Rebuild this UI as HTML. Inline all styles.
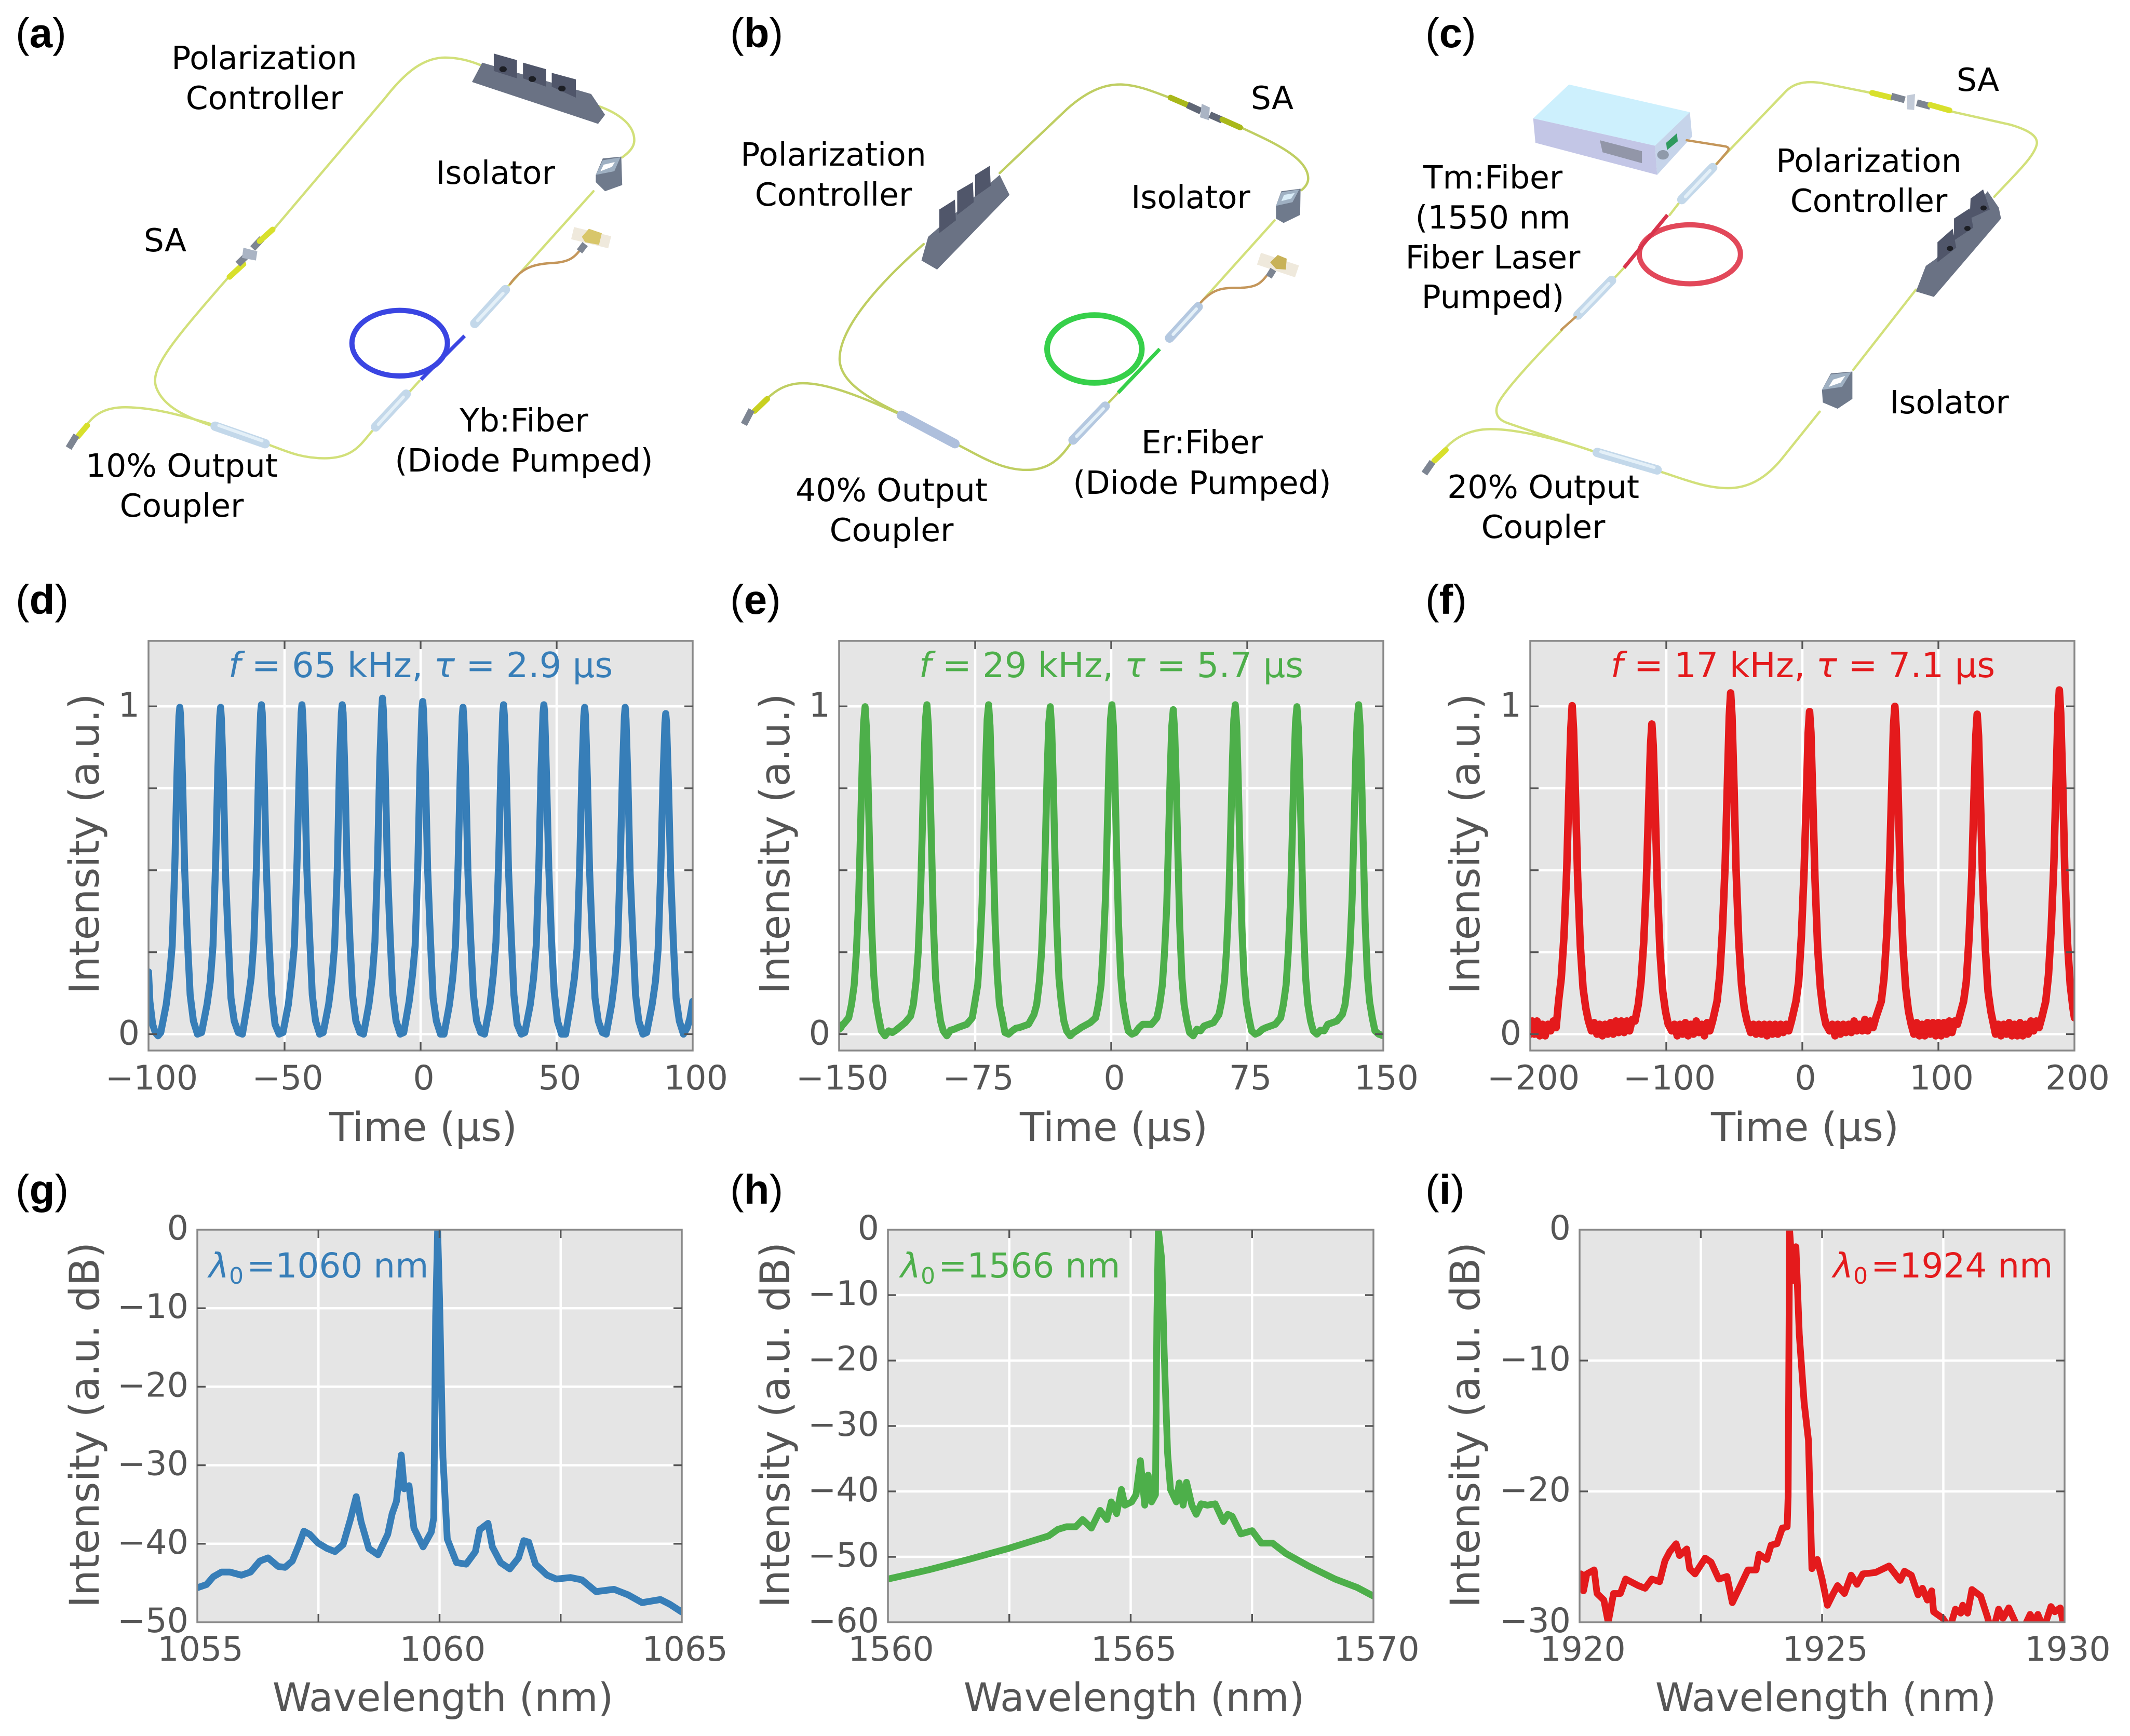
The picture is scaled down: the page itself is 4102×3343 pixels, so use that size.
<!DOCTYPE html>
<html lang="en">
<head>
<meta charset="utf-8">
<title>Fiber laser schematics, pulse trains and spectra</title>
<style>
html,body{margin:0;padding:0;background:#fff;}
svg{display:block;}
text{font-family:"DejaVu Sans",sans-serif;}
.schem *{vector-effect:non-scaling-stroke;}
.lbl{font-size:61.5px;fill:#000;text-anchor:middle;}
.plab{font-family:"Liberation Sans",sans-serif;font-size:80px;fill:#000;}
.plab tspan{font-family:"Liberation Sans",sans-serif;}
.axt{font-size:79px;fill:#555;text-anchor:middle;}
.axdb{font-size:78.5px;}
.axw{font-size:76px;}
.axtm{font-size:77px;}
.ann{font-size:67px;text-anchor:middle;}
.lam{font-size:66px;}
.fib{fill:none;stroke:#d2e07a;stroke-width:4.5;stroke-linecap:round;stroke-linejoin:round;}
.fibb{fill:none;stroke:#bfce62;stroke-width:4.5;stroke-linecap:round;stroke-linejoin:round;}
.org{fill:none;stroke:#c4965a;stroke-width:4.5;stroke-linecap:round;stroke-linejoin:round;}
.tube{fill:none;stroke:#c3d8ea;stroke-width:18;stroke-linecap:round;}
.tubeh{fill:none;stroke:#e4f0f8;stroke-width:6;stroke-linecap:round;}
.conn{fill:none;stroke:#d8e02c;stroke-width:11;stroke-linecap:round;}
.gcon{fill:none;stroke:#7d8592;stroke-width:13;stroke-linecap:butt;}
.pcb{fill:#6a7284;}
.pcp{fill:#50566a;}
.knob{fill:#1c1e24;}
.iso{fill:#6f7a8c;}
.isot{fill:#9fb0c2;}
.arrow{fill:#fff;}
</style>
</head>
<body>
<svg id="figure" xmlns="http://www.w3.org/2000/svg" width="4102" height="3343" viewBox="0 0 4102 3343">
<rect x="0" y="0" width="4102" height="3343" fill="#fff"/>

<!-- Schematic A -->
<g class="schem" transform="scale(.8929,.7015)">
  <path class="fib" d="M460,1170 C400,1145 350,1115 336,1060 C325,1010 370,940 490,765 M590,630 L830,270 C870,205 910,158 960,158 C990,158 1015,168 1035,178 M1275,285 C1330,305 1368,340 1368,385 C1368,405 1355,420 1342,432 M1280,525 L1100,780 L1020,890"/>
  <path class="fib" d="M880,1080 L905,1045 M805,1180 C780,1215 765,1258 700,1258 C650,1258 620,1240 578,1220"/>
  <path class="fib" d="M458,1165 C390,1140 330,1118 270,1118 C230,1118 205,1135 188,1165"/>
  <ellipse cx="862" cy="942" rx="103" ry="90" fill="none" stroke="#3a45e2" stroke-width="10"/>
  <path fill="none" stroke="#3a45e2" stroke-width="7" d="M1002,922 L908,1042"/>
  <path class="tube" d="M1024,888 L1090,795"/>
  <path class="tubeh" d="M1030,880 L1085,805"/>
  <path class="tube" d="M810,1172 L876,1082"/>
  <path class="tubeh" d="M816,1165 L870,1090"/>
  <path class="tube" d="M464,1170 L572,1218"/>
  <path class="tubeh" d="M472,1168 L565,1210"/>
  <path class="org" d="M1100,780 C1125,735 1150,725 1190,722 C1230,720 1240,705 1255,680"/>
  <path fill="none" stroke="#efe9dc" stroke-width="24" d="M1235,640 L1315,665"/>
  <path fill="#d8c66a" d="M1255,650 L1270,628 L1298,640 L1292,672 L1262,665 Z"/>
  <path class="gcon" d="M1262,670 L1250,690"/>
  <path class="conn" d="M188,1168 L168,1198"/>
  <path class="gcon" d="M165,1195 L148,1230"/>
  <path class="conn" d="M495,760 L525,725"/>
  <path class="gcon" d="M513,725 L535,698"/>
  <path fill="#aab4c4" d="M525,680 L555,690 L552,715 L522,708 Z"/>
  <path class="gcon" d="M545,682 L565,655"/>
  <path class="conn" d="M560,662 L588,630"/>
  <path class="pcb" d="M1018,225 L1040,172 L1275,258 L1305,315 L1290,340 Z"/>
  <path class="pcp" d="M1065,195 L1065,147 L1115,165 L1115,215 Z"/>
  <path class="pcp" d="M1128,215 L1128,172 L1178,190 L1178,238 Z"/>
  <path class="pcp" d="M1190,238 L1190,200 L1242,218 L1242,268 Z"/>
  <ellipse class="knob" cx="1085" cy="190" rx="8" ry="8"/>
  <ellipse class="knob" cx="1148" cy="217" rx="8" ry="8"/>
  <ellipse class="knob" cx="1212" cy="243" rx="8" ry="8"/>
  <path class="iso" d="M1285,480 L1300,435 L1340,430 L1342,508 L1305,525 L1285,500 Z"/>
  <path class="isot" d="M1285,480 L1300,440 L1338,432 L1325,470 Z"/>
  <path class="arrow" d="M1295,470 L1302,452 L1326,445 L1320,458 Z"/>
</g>

<!-- Schematic B -->
<g class="schem" transform="translate(1400,0) scale(.861,.7015)">
  <path class="fibb" d="M383,1133 C320,1095 252,1050 252,985 C252,910 320,800 440,670 M610,475 L760,300 C810,245 850,230 885,232 C925,235 960,255 990,268 M1150,350 C1210,385 1300,430 1300,490 C1300,505 1292,515 1285,522"/>
  <path class="fib" d="M1225,605 L1060,830"/>
  <path class="fibb" d="M850,1110 L875,1078 M770,1215 C745,1260 720,1290 670,1290 C615,1290 570,1255 515,1220"/>
  <path class="fibb" d="M383,1135 C310,1095 230,1052 170,1052 C130,1052 105,1075 85,1100"/>
  <ellipse cx="822" cy="958" rx="106" ry="93" fill="none" stroke="#36d04a" stroke-width="11"/>
  <path fill="none" stroke="#36d04a" stroke-width="7" d="M968,958 L875,1078"/>
  <path class="tube" d="M990,928 L1054,842" style="stroke:#b4c8e0"/>
  <path class="tubeh" d="M998,918 L1050,848"/>
  <path class="tube" d="M774,1208 L846,1115" style="stroke:#b4c8e0"/>
  <path class="tubeh" d="M782,1198 L842,1122"/>
  <path class="tube" d="M390,1140 L510,1218" style="stroke:#aebfdc"/>
  <path class="org" d="M1060,830 C1090,790 1110,790 1150,790 C1190,788 1195,775 1215,745"/>
  <path fill="none" stroke="#efe9dc" stroke-width="24" d="M1190,710 L1275,745"/>
  <path fill="#c8b258" d="M1215,720 L1232,700 L1252,710 L1250,740 L1228,738 Z"/>
  <path class="gcon" d="M1222,740 L1212,760"/>
  <path class="conn" d="M90,1095 L62,1128" style="stroke:#c8d020"/>
  <path class="gcon" d="M55,1125 L38,1165"/>
  <path class="conn" d="M992,268 L1030,288" style="stroke:#a9b81a"/>
  <path class="gcon" d="M1030,288 L1060,305" style="stroke:#5f6675"/>
  <path fill="#aab4c4" d="M1062,285 L1080,295 L1078,330 L1058,322 Z"/>
  <path class="gcon" d="M1080,315 L1108,330" style="stroke:#5f6675"/>
  <path class="conn" d="M1108,328 L1148,350" style="stroke:#a9b81a"/>
  <path class="pcb" d="M435,715 L450,650 L610,480 L632,535 L470,740 Z"/>
  <path class="pcp" d="M475,640 L475,575 L510,548 L512,605 Z"/>
  <path class="pcp" d="M515,590 L515,525 L550,500 L552,555 Z"/>
  <path class="pcp" d="M555,540 L555,480 L588,455 L590,510 Z"/>
  <path class="iso" d="M1228,565 L1240,525 L1283,518 L1282,590 L1245,612 L1228,600 Z"/>
  <path class="isot" d="M1228,565 L1240,528 L1280,520 L1265,555 Z"/>
  <path fill="#d9ecf7" d="M1240,552 L1246,535 L1270,530 L1262,545 Z"/>
</g>

<!-- Schematic C -->
<g class="schem" transform="translate(2750,0) scale(.8622,.7015)">
  <path class="fib" d="M640,455 L800,250 C820,225 850,222 880,228 L990,255 M1165,305 L1300,342 C1345,358 1362,375 1360,395 C1355,430 1310,480 1265,540"/>
  <path class="fib" d="M1090,795 L950,1015 M875,1130 L790,1260 C750,1320 710,1340 670,1340 C620,1340 570,1315 520,1295"/>
  <path class="fib" d="M372,1240 C300,1210 220,1180 175,1160 C150,1148 148,1125 160,1100 C180,1060 240,980 300,905 M415,765 L438,735 M540,590 L562,555"/>
  <path class="fib" d="M372,1240 C290,1205 200,1178 140,1178 C90,1178 55,1205 32,1240"/>
  <ellipse cx="585" cy="698" rx="113" ry="81" fill="none" stroke="#e2485a" stroke-width="10"/>
  <path fill="none" stroke="#d8344c" stroke-width="7" d="M535,590 L438,735"/>
  <path class="tube" d="M567,548 L636,460"/>
  <path class="tubeh" d="M575,540 L630,468"/>
  <path class="tube" d="M335,865 L410,770"/>
  <path class="tubeh" d="M343,856 L404,778"/>
  <path class="tube" d="M378,1242 L512,1290"/>
  <path class="tubeh" d="M386,1240 L505,1283"/>
  <path fill="#cdf0fd" d="M235,325 L315,232 L585,308 L507,400 Z"/>
  <path fill="#c3c6e6" d="M235,325 L507,400 L512,480 L240,392 Z"/>
  <path fill="#c6d4ea" d="M507,400 L585,308 L590,375 L512,480 Z"/>
  <path fill="#9296a8" d="M384,385 L478,415 L478,448 L390,418 Z"/>
  <path fill="#2f9a5e" d="M532,392 L556,366 L558,388 L534,412 Z"/>
  <ellipse cx="525" cy="425" rx="13" ry="13" fill="#8f9aaa"/>
  <path class="org" d="M578,385 L665,402 C675,406 672,412 666,420 L645,450"/>
  <path class="org" d="M330,870 L298,905"/>
  <path class="conn" d="M40,1235 L14,1265"/>
  <path class="gcon" d="M10,1268 L-8,1300"/>
  <path class="conn" d="M992,255 L1035,268"/>
  <path class="gcon" d="M1035,264 L1065,274"/>
  <path fill="#c3cbd8" d="M1070,262 L1088,258 L1086,302 L1070,300 Z"/>
  <path class="gcon" d="M1092,282 L1122,292"/>
  <path class="conn" d="M1122,288 L1165,303"/>
  <path class="pcb" d="M1090,800 L1112,730 L1135,710 L1250,525 L1275,570 L1280,600 L1130,815 Z"/>
  <path class="pcp" d="M1138,720 L1138,665 L1172,628 L1180,680 Z"/>
  <path class="pcp" d="M1175,660 L1175,600 L1210,572 L1218,625 Z"/>
  <path class="pcp" d="M1210,600 L1212,545 L1240,520 L1255,575 Z"/>
  <ellipse class="knob" cx="1166" cy="682" rx="7" ry="7"/>
  <ellipse class="knob" cx="1205" cy="627" rx="7" ry="7"/>
  <ellipse class="knob" cx="1241" cy="571" rx="7" ry="7"/>
  <path class="iso" d="M880,1070 L900,1025 L948,1020 L948,1095 L915,1122 L882,1105 Z"/>
  <path class="isot" d="M880,1070 L900,1028 L945,1022 L925,1062 Z"/>
  <path class="arrow" d="M895,1062 L905,1042 L932,1032 L922,1050 Z"/>
</g>

<!-- Schematic labels -->
<g>
  <text class="lbl" x="509" y="133">Polarization</text>
  <text class="lbl" x="509" y="210">Controller</text>
  <text class="lbl" x="954" y="354">Isolator</text>
  <text class="lbl" x="318" y="484">SA</text>
  <text class="lbl" x="350" y="918">10% Output</text>
  <text class="lbl" x="350" y="995">Coupler</text>
  <text class="lbl" x="1009" y="831">Yb:Fiber</text>
  <text class="lbl" x="1009" y="908">(Diode Pumped)</text>
</g>
<g>
  <text class="lbl" x="1605" y="319">Polarization</text>
  <text class="lbl" x="1605" y="396">Controller</text>
  <text class="lbl" x="2450" y="210">SA</text>
  <text class="lbl" x="2293" y="401">Isolator</text>
  <text class="lbl" x="1717" y="965">40% Output</text>
  <text class="lbl" x="1717" y="1042">Coupler</text>
  <text class="lbl" x="2315" y="873">Er:Fiber</text>
  <text class="lbl" x="2315" y="951">(Diode Pumped)</text>
</g>
<g>
  <text class="lbl" x="2875" y="363">Tm:Fiber</text>
  <text class="lbl" x="2875" y="440">(1550 nm</text>
  <text class="lbl" x="2875" y="517">Fiber Laser</text>
  <text class="lbl" x="2875" y="593">Pumped)</text>
  <text class="lbl" x="3599" y="331">Polarization</text>
  <text class="lbl" x="3599" y="408">Controller</text>
  <text class="lbl" x="3809" y="175">SA</text>
  <text class="lbl" x="3754" y="796">Isolator</text>
  <text class="lbl" x="2972" y="959">20% Output</text>
  <text class="lbl" x="2972" y="1036">Coupler</text>
</g>

<!-- Panel letters -->
<g>
  <text class="plab" x="30" y="91">(<tspan font-weight="bold">a</tspan>)</text>
  <text class="plab" x="1406" y="91">(<tspan font-weight="bold">b</tspan>)</text>
  <text class="plab" x="2745" y="91">(<tspan font-weight="bold">c</tspan>)</text>
  <text class="plab" x="30" y="1182">(<tspan font-weight="bold">d</tspan>)</text>
  <text class="plab" x="1406" y="1182">(<tspan font-weight="bold">e</tspan>)</text>
  <text class="plab" x="2745" y="1182">(<tspan font-weight="bold">f</tspan>)</text>
  <text class="plab" x="30" y="2318">(<tspan font-weight="bold">g</tspan>)</text>
  <text class="plab" x="1406" y="2318">(<tspan font-weight="bold">h</tspan>)</text>
  <text class="plab" x="2745" y="2318">(<tspan font-weight="bold">i</tspan>)</text>
</g>

<!-- Chart groups, filled by script -->
<g id="panel-d"></g>
<g id="panel-e"></g>
<g id="panel-f"></g>
<g id="panel-g"></g>
<g id="panel-h"></g>
<g id="panel-i"></g>

<!-- Axis titles and annotations -->
<g>
  <text class="axt axtm" x="815" y="2197">Time (µs)</text>
  <text class="axt axtm" x="2145" y="2197">Time (µs)</text>
  <text class="axt axtm" x="3476" y="2197">Time (µs)</text>
  <text class="axt axw" x="853" y="3295">Wavelength (nm)</text>
  <text class="axt axw" x="2184" y="3295">Wavelength (nm)</text>
  <text class="axt axw" x="3516" y="3295">Wavelength (nm)</text>
  <text class="axt" transform="translate(190,1625) rotate(-90)">Intensity (a.u.)</text>
  <text class="axt" transform="translate(1520,1625) rotate(-90)">Intensity (a.u.)</text>
  <text class="axt" transform="translate(2849,1625) rotate(-90)">Intensity (a.u.)</text>
  <text class="axt axdb" transform="translate(190,2744) rotate(-90)">Intensity (a.u. dB)</text>
  <text class="axt axdb" transform="translate(1520,2744) rotate(-90)">Intensity (a.u. dB)</text>
  <text class="axt axdb" transform="translate(2849,2744) rotate(-90)">Intensity (a.u. dB)</text>
</g>
<g>
  <text class="ann" x="810" y="1304" fill="#377eb8"><tspan font-style="italic">f</tspan> = 65 kHz, <tspan font-style="italic">τ</tspan> = 2.9 µs</text>
  <text class="ann" x="2140" y="1304" fill="#4daf4a"><tspan font-style="italic">f</tspan> = 29 kHz, <tspan font-style="italic">τ</tspan> = 5.7 µs</text>
  <text class="ann" x="3472" y="1304" fill="#e41a1c"><tspan font-style="italic">f</tspan> = 17 kHz, <tspan font-style="italic">τ</tspan> = 7.1 µs</text>
  <text class="lam" x="402" y="2460" fill="#377eb8"><tspan font-style="italic">λ</tspan><tspan font-size="44" dy="12">0</tspan><tspan dx="6" dy="-12">=1060 nm</tspan></text>
  <text class="lam" x="1734" y="2460" fill="#4daf4a"><tspan font-style="italic">λ</tspan><tspan font-size="44" dy="12">0</tspan><tspan dx="6" dy="-12">=1566 nm</tspan></text>
  <text class="lam" x="3530" y="2460" fill="#e41a1c"><tspan font-style="italic">λ</tspan><tspan font-size="44" dy="12">0</tspan><tspan dx="6" dy="-12">=1924 nm</tspan></text>
</g>
</svg>

<script>
// ---------- Panel d: Yb pulse train ----------
const timeD = [
 -100,-99.5,-98.5,-97.5,-96.5,
 -95.5,-93.5,-92.3,-91.3,-90.3,-89.5,-88.8,-88.5,-88.2,-87.5,-86.7,-85.7,-84.7,-83.5,-82,
 -80.5,-78.5,-77.3,-76.3,-75.3,-74.5,-73.8,-73.5,-73.2,-72.5,-71.7,-70.7,-69.7,-68.5,-67,
 -65.5,-63.5,-62.3,-61.3,-60.3,-59.5,-58.8,-58.5,-58.2,-57.5,-56.7,-55.7,-54.7,-53.5,-52,
 -50.6,-48.6,-47.4,-46.4,-45.4,-44.6,-43.9,-43.6,-43.3,-42.6,-41.8,-40.8,-39.8,-38.6,-37.1,
 -35.8,-33.8,-32.6,-31.6,-30.6,-29.8,-29.1,-28.8,-28.5,-27.8,-27,-26,-25,-23.8,-22.3,
 -21,-19,-17.8,-16.8,-15.8,-15,-14.3,-14,-13.7,-13,-12.2,-11.2,-10.2,-9,-7.5,
 -6.2,-4.2,-3,-2,-1,-0.2,0.5,0.8,1.1,1.8,2.6,3.6,4.6,5.8,7.3,
 8.6,10.6,11.8,12.8,13.8,14.6,15.3,15.6,15.9,16.6,17.4,18.4,19.4,20.6,22.1,
 23.5,25.5,26.7,27.7,28.7,29.5,30.2,30.5,30.8,31.5,32.3,33.3,34.3,35.5,37,
 38.3,40.3,41.5,42.5,43.5,44.3,45,45.3,45.6,46.3,47.1,48.1,49.1,50.3,51.8,
 53.3,55.3,56.5,57.5,58.5,59.3,60,60.3,60.6,61.3,62.1,63.1,64.1,65.3,66.8,
 68.2,70.2,71.4,72.4,73.4,74.2,74.9,75.2,75.5,76.2,77,78,79,80.2,81.7,
 83.1,85.1,86.3,87.3,88.3,89.1,89.8,90.1,90.4,91.1,91.9,92.9,93.9,95.1,96.6,
 98,99,100
];
const intensityD = [
 0.19,0.1,0.03,0.005,-0.005,
 0.005,0.09,0.17,0.27,0.52,0.8,0.97,0.997,0.97,0.78,0.5,0.29,0.12,0.04,0,
 0.005,0.09,0.16,0.27,0.53,0.81,0.97,0.997,0.96,0.78,0.49,0.29,0.11,0.04,0.005,
 0,0.1,0.17,0.28,0.52,0.82,0.98,1.005,0.98,0.79,0.51,0.28,0.12,0.03,0,
 0.005,0.09,0.18,0.27,0.53,0.8,0.98,1.005,0.97,0.78,0.5,0.3,0.12,0.04,0,
 0.005,0.09,0.17,0.27,0.51,0.82,0.98,1.005,0.98,0.79,0.5,0.29,0.12,0.04,0.005,
 0,0.09,0.17,0.28,0.53,0.83,0.99,1.025,0.99,0.8,0.51,0.3,0.12,0.04,0,
 0.005,0.1,0.18,0.27,0.52,0.82,0.99,1.015,0.98,0.79,0.5,0.29,0.11,0.04,0,
 0,0.09,0.17,0.27,0.52,0.8,0.97,0.997,0.96,0.78,0.49,0.29,0.12,0.04,0.005,
 0,0.09,0.18,0.28,0.53,0.81,0.98,1.005,0.97,0.79,0.5,0.3,0.12,0.03,0,
 0.005,0.09,0.17,0.27,0.52,0.81,0.98,1.005,0.98,0.78,0.51,0.29,0.13,0.04,0,
 0,0.1,0.17,0.26,0.52,0.8,0.97,0.997,0.97,0.78,0.5,0.29,0.11,0.04,0.005,
 0,0.09,0.17,0.27,0.53,0.8,0.97,0.997,0.96,0.77,0.49,0.3,0.12,0.04,0,
 0.005,0.09,0.16,0.26,0.51,0.78,0.95,0.978,0.95,0.76,0.49,0.28,0.11,0.04,0,
 0.02,0.05,0.1
];

// ---------- Panel e: Er pulse train ----------
const timeE = [
 -150,-149,-148,
 -147.7,-144.7,-143.2,-141.7,-140.5,-139.3,-138.3,-137.3,-136.5,-135.7,-134.9,-134.1,-133.1,-132.1,-130.9,-129.7,-128.2,-126.7,-124.7,-122.7,-120.7,-118.7,
 -113.6,-110.6,-109.1,-107.6,-106.4,-105.2,-104.2,-103.2,-102.4,-101.6,-100.8,-100,-99,-98,-96.8,-95.6,-94.1,-92.6,-90.6,-88.6,-86.6,-84.6,
 -79.6,-76.6,-75.1,-73.6,-72.4,-71.2,-70.2,-69.2,-68.4,-67.6,-66.8,-66,-65,-64,-62.8,-61.6,-60.1,-58.6,-56.6,-54.6,-52.6,-50.6,
 -45.6,-42.6,-41.1,-39.6,-38.4,-37.2,-36.2,-35.2,-34.4,-33.6,-32.8,-32,-31,-30,-28.8,-27.6,-26.1,-24.6,-22.6,-20.6,-18.6,-16.6,
 -11.6,-8.6,-7.1,-5.6,-4.4,-3.2,-2.2,-1.2,-0.4,0.4,1.2,2,3,4,5.2,6.4,7.9,9.4,11.4,13.4,15.4,17.4,
 22.2,25.2,26.7,28.2,29.4,30.6,31.6,32.6,33.4,34.2,35,35.8,36.8,37.8,39,40.2,41.7,43.2,45.2,47.2,49.2,51.2,
 56.4,59.4,60.9,62.4,63.6,64.8,65.8,66.8,67.6,68.4,69.2,70,71,72,73.2,74.4,75.9,77.4,79.4,81.4,83.4,85.4,
 90.4,93.4,94.9,96.4,97.6,98.8,99.8,100.8,101.6,102.4,103.2,104,105,106,107.2,108.4,109.9,111.4,113.4,115.4,117.4,119.4,
 124.4,127.4,128.9,130.4,131.6,132.8,133.8,134.8,135.6,136.4,137.2,138,139,140,141.2,142.4,143.9,145.4,147.4,150
];
const intensityE = [
 0.015,0.02,0.03,
 0.03,0.05,0.09,0.15,0.25,0.4,0.6,0.82,0.95,0.999,0.93,0.78,0.55,0.33,0.18,0.1,0.05,0.01,-0.005,0.01,0.005,0.012,
 0.035,0.055,0.09,0.16,0.25,0.41,0.61,0.83,0.96,1.005,0.94,0.78,0.56,0.33,0.17,0.1,0.04,0.01,-0.005,0.012,0.015,0.02,
 0.03,0.05,0.1,0.15,0.26,0.4,0.6,0.83,0.96,1.005,0.94,0.79,0.55,0.34,0.18,0.09,0.05,0.005,0,0.01,0.018,0.02,
 0.03,0.06,0.09,0.16,0.25,0.4,0.6,0.82,0.95,0.999,0.93,0.78,0.54,0.33,0.17,0.1,0.04,0.01,-0.005,0.005,0.012,0.02,
 0.035,0.05,0.09,0.15,0.26,0.41,0.62,0.84,0.96,1.005,0.94,0.79,0.55,0.34,0.18,0.1,0.05,0.01,0,0.005,0.02,0.03,
 0.03,0.05,0.09,0.15,0.25,0.39,0.59,0.81,0.94,0.99,0.92,0.77,0.54,0.33,0.17,0.09,0.04,0.005,-0.005,0.015,0.01,0.025,
 0.035,0.06,0.1,0.16,0.26,0.41,0.61,0.83,0.96,1.005,0.94,0.78,0.55,0.33,0.18,0.1,0.05,0.01,0,0.005,0.015,0.02,
 0.03,0.05,0.09,0.15,0.25,0.4,0.6,0.82,0.95,0.999,0.93,0.78,0.55,0.33,0.17,0.09,0.04,0.01,0,0.012,0.01,0.03,
 0.04,0.06,0.09,0.16,0.26,0.41,0.62,0.84,0.96,1.005,0.94,0.79,0.56,0.34,0.18,0.1,0.05,0.01,0,-0.005
];

// ---------- Panel f: Tm pulse train ----------
const timeF = [
 -200,-198.5,-197,-195,-193,-191,-189,-187,-185,-183,-181,
 -179.2,-177.2,-175.2,-173.2,-171.7,-170.2,-169.2,-168.2,-166.7,-165.2,-163.2,-161.2,-159.2,-157.2,
 -155,-153,-151,-149,-147,-145,-143,-141,-139,-137,-135,-133,-131,-129,-127,-125,-123,
 -120.6,-118.6,-116.6,-114.6,-113.1,-111.6,-110.6,-109.6,-108.1,-106.6,-104.6,-102.6,-100.6,-98.6,
 -96,-94,-92,-90,-88,-86,-84,-82,-80,-78,-76,-74,-72,-70,-68,-66,
 -62.7,-60.7,-58.7,-56.7,-55.2,-53.7,-52.7,-51.7,-50.2,-48.7,-46.7,-44.7,-42.7,-40.7,
 -38,-36,-34,-32,-30,-28,-26,-24,-22,-20,-18,-16,-14,-12,-10,-8,
 -4.7,-2.7,-0.7,1.3,2.8,4.3,5.3,6.3,7.8,9.3,11.3,13.3,15.3,17.3,
 20,22,24,26,28,30,32,34,36,38,40,42,44,46,48,50,52,54,
 58,60,62,64,65.5,67,68,69,70.5,72,74,76,78,80,
 82,84,86,88,90,92,94,96,98,100,102,104,106,108,110,112,114,
 118.5,120.5,122.5,124.5,126,127.5,128.5,129.5,131,132.5,134.5,136.5,138.5,140.5,
 142,144,146,148,150,152,154,156,158,160,162,164,166,168,170,172,174,176,
 178.9,180.9,182.9,184.9,186.4,187.9,188.9,189.9,191.4,192.9,194.9,196.9,198.9,200
];
const intensityF = [
 0,0.04,0,0.04,-0.005,0.03,-0.005,0.03,0.01,0.04,0.02,
 0.1,0.17,0.3,0.5,0.72,0.93,1.002,0.93,0.72,0.48,0.27,0.14,0.08,0.04,
 0.01,0.035,0,0.03,-0.005,0.03,0,0.035,0,0.04,0.005,0.04,0.005,0.04,0.01,0.045,0.04,
 0.09,0.16,0.28,0.47,0.68,0.88,0.946,0.88,0.68,0.45,0.25,0.13,0.07,0.03,
 0.01,0.03,-0.005,0.03,0,0.035,-0.005,0.03,0,0.04,0.005,0.03,-0.005,0.035,0.01,0.04,
 0.1,0.18,0.32,0.52,0.75,0.97,1.041,0.97,0.75,0.5,0.28,0.15,0.08,0.04,
 0.005,0.03,0,0.03,0,0.03,-0.005,0.03,0,0.03,0,0.03,0.005,0.03,0.01,0.04,
 0.1,0.16,0.3,0.5,0.7,0.92,0.984,0.92,0.7,0.47,0.26,0.14,0.07,0.03,
 0.01,0.03,-0.005,0.03,0,0.03,0.005,0.03,0.005,0.04,0.01,0.03,0.01,0.045,0.01,0.04,0.02,0.05,
 0.1,0.17,0.3,0.5,0.72,0.94,1,0.93,0.72,0.47,0.26,0.14,0.07,0.03,
 0,0.035,-0.005,0.03,-0.005,0.035,0,0.035,-0.005,0.035,-0.005,0.035,0,0.04,0.005,0.04,0.03,
 0.1,0.16,0.29,0.48,0.7,0.91,0.976,0.91,0.7,0.47,0.26,0.13,0.07,0.03,
 0,0.03,-0.005,0.03,0,0.035,-0.005,0.03,-0.005,0.035,-0.005,0.03,0,0.04,0.01,0.04,0.02,0.05,
 0.1,0.18,0.32,0.52,0.76,0.98,1.05,0.98,0.76,0.5,0.28,0.15,0.08,0.05
];

// ---------- Panel g: Yb spectrum ----------
const wavelengthG = [1055,1055.19,1055.33,1055.5,1055.67,1055.91,1056.1,1056.29,1056.46,1056.67,1056.81,1056.96,1057.1,1057.2,1057.32,1057.49,1057.68,1057.84,1058.01,1058.16,1058.28,1058.38,1058.54,1058.73,1058.93,1059.02,1059.11,1059.21,1059.27,1059.37,1059.47,1059.66,1059.83,1059.88,1059.92,1059.96,1060,1060.07,1060.16,1060.35,1060.55,1060.74,1060.83,1061,1061.09,1061.26,1061.45,1061.63,1061.74,1061.84,1061.98,1062.22,1062.41,1062.7,1062.94,1063.23,1063.6,1063.89,1064.18,1064.56,1064.75,1065];
const powerG = [-45.6,-45.2,-44.2,-43.6,-43.6,-44,-43.6,-42.2,-41.8,-42.9,-43,-42.2,-40.1,-38.4,-38.8,-39.9,-40.6,-41,-40.1,-36.9,-34,-37.2,-40.6,-41.4,-38.8,-36.2,-34.6,-28.7,-33,-32.6,-38,-40.4,-38.5,-36.7,-11,0,-8.8,-29,-39.4,-42.4,-42.6,-41,-38.2,-37.4,-40.4,-42.4,-43.2,-41.8,-39.6,-39.8,-42.6,-44,-44.5,-44.3,-44.6,-46.1,-45.8,-46.5,-47.5,-47.1,-47.7,-48.7];

// ---------- Panel h: Er spectrum ----------
const wavelengthH = [1560,1560.83,1561.66,1562.49,1563.31,1563.5,1563.68,1563.87,1564.01,1564.19,1564.37,1564.51,1564.6,1564.71,1564.81,1564.88,1565.02,1565.11,1565.2,1565.29,1565.36,1565.43,1565.51,1565.54,1565.57,1565.64,1565.69,1565.76,1565.82,1565.94,1566,1566.08,1566.15,1566.26,1566.35,1566.45,1566.58,1566.74,1566.91,1567,1567.09,1567.27,1567.5,1567.69,1567.92,1568.2,1568.66,1569.21,1569.67,1570];
const powerH = [-53.4,-52,-50.4,-48.7,-46.8,-45.8,-45.4,-45.4,-44.3,-45.6,-42.9,-44.3,-41.6,-43.4,-39.7,-42.1,-41.6,-40.5,-35.3,-42.1,-37.5,-41.6,-40.5,-13.3,0,-4.6,-18.8,-34.2,-39.7,-41.6,-38.7,-42.1,-38.6,-42.1,-43.5,-41.9,-42.1,-41.9,-44.6,-43.5,-43.8,-46.5,-46,-47.9,-47.9,-49.5,-51.4,-53.4,-54.7,-56];

// ---------- Panel i: Tm spectrum ----------
const wavelengthI = [1920.03,1920.08,1920.15,1920.3,1920.36,1920.5,1920.59,1920.7,1920.84,1920.95,1921.21,1921.35,1921.49,1921.65,1921.76,1921.86,1921.99,1922.06,1922.21,1922.27,1922.38,1922.59,1922.71,1922.87,1923.04,1923.15,1923.33,1923.47,1923.64,1923.7,1923.86,1923.95,1924.07,1924.18,1924.28,1924.3,1924.33,1924.4,1924.46,1924.53,1924.63,1924.72,1924.79,1924.9,1925,1925.11,1925.23,1925.32,1925.46,1925.6,1925.72,1925.84,1926.1,1926.38,1926.61,1926.7,1926.84,1926.98,1927.07,1927.17,1927.26,1927.3,1927.49,1927.63,1927.75,1927.86,1927.9,1928,1928.09,1928.27,1928.41,1928.5,1928.64,1928.73,1928.85,1929.01,1929.15,1929.29,1929.38,1929.45,1929.57,1929.72,1929.8,1929.91,1929.98,1930];
const powerI = [-26.3,-27.6,-26.3,-26,-27.8,-28.3,-30,-27.8,-27.8,-26.7,-27.2,-27.4,-26.7,-26.9,-25.3,-24.6,-24,-24.9,-24.4,-25.9,-26.3,-25.1,-25.4,-26.7,-26.5,-28.5,-27.1,-26,-26,-24.8,-25.2,-24.1,-24,-22.8,-22.7,-20.4,0,-3.9,-1.3,-8,-13.2,-16.1,-25.9,-25.2,-26.7,-28.7,-27.8,-27.2,-27.8,-26.4,-27.1,-26.3,-26.2,-25.7,-26.8,-26.1,-26.4,-27.9,-27.4,-28.3,-27.6,-29.2,-29.7,-30.5,-29,-29.3,-28.7,-29.3,-27.5,-28,-29.6,-31,-29,-29.7,-28.9,-30.2,-30.5,-29.4,-30,-29.4,-30.5,-28.8,-29.2,-28.9,-30.2,-30.5];

// ---------- Tick arrays ----------
const xTicksD = [-100,-50,0,50,100];
const xTickLabelsD = ['−100','−50','0','50','100'];
const xTicksE = [-150,-75,0,75,150];
const xTickLabelsE = ['−150','−75','0','75','150'];
const xTicksF = [-200,-100,0,100,200];
const xTickLabelsF = ['−200','−100','0','100','200'];
const yTicksTime = [0,0.25,0.5,0.75,1];
const yTickLabelsTime = ['0','','','','1'];
const xTicksG = [1055,1057.5,1060,1062.5,1065];
const xTickLabelsG = ['1055','','1060','','1065'];
const xTicksH = [1560,1562.5,1565,1567.5,1570];
const xTickLabelsH = ['1560','','1565','','1570'];
const xTicksI = [1920,1922.5,1925,1927.5,1930];
const xTickLabelsI = ['1920','','1925','','1930'];
const yTicksG = [0,-10,-20,-30,-40,-50];
const yTickLabelsG = ['0','−10','−20','−30','−40','−50'];
const yTicksH = [0,-10,-20,-30,-40,-50,-60];
const yTickLabelsH = ['0','−10','−20','−30','−40','−50','−60'];
const yTicksI = [0,-10,-20,-30];
const yTickLabelsI = ['0','−10','−20','−30'];

const SVGNS = 'http://www.w3.org/2000/svg';
function mk(parent, tag, attrs) {
  const el = document.createElementNS(SVGNS, tag);
  for (const k in attrs) el.setAttribute(k, attrs[k]);
  parent.appendChild(el);
  return el;
}
function drawPanel(id, box, xDomain, yDomain, xs, ys, color, strokeW, xTicks, xLabels, yTicks, yLabels, xLabelY, yLabelDy) {
  const g = document.getElementById(id);
  const sx = v => box.x0 + (v - xDomain[0]) / (xDomain[1] - xDomain[0]) * (box.x1 - box.x0);
  const sy = v => box.y1 - (v - yDomain[0]) / (yDomain[1] - yDomain[0]) * (box.y1 - box.y0);
  const bg = mk(g, 'rect', {x: box.x0, y: box.y0, width: box.x1 - box.x0, height: box.y1 - box.y0, fill: '#e5e5e5'});
  
  
  const gridColor = '#ffffff';
  xTicks.forEach(function (t) {
    if (t === xDomain[0] || t === xDomain[1]) return;
    const line = mk(g, 'line', {x1: sx(t), x2: sx(t), y1: box.y0, y2: box.y1, stroke: gridColor, 'stroke-width': 4.5});
    
    
  });
  yTicks.forEach(function (t) {
    if (t === yDomain[0] || t === yDomain[1]) return;
    const line = mk(g, 'line', {x1: box.x0, x2: box.x1, y1: sy(t), y2: sy(t), stroke: gridColor, 'stroke-width': 4.5});
    
    
  });
  const clip = mk(g, 'clipPath', {id: id + '-clip'});
  mk(clip, 'rect', {x: box.x0, y: box.y0, width: box.x1 - box.x0, height: box.y1 - box.y0});
  let d = '';
  xs.forEach(function (x, i) {
    d += (i ? 'L' : 'M') + sx(x).toFixed(1) + ',' + sy(ys[i]).toFixed(1);
  });
  const trace = mk(g, 'path', {d: d, fill: 'none', stroke: color, 'stroke-width': strokeW, 'stroke-linejoin': 'round', 'stroke-linecap': 'round', 'clip-path': 'url(#' + id + '-clip)'});
  
  
  const frame = mk(g, 'rect', {x: box.x0, y: box.y0, width: box.x1 - box.x0, height: box.y1 - box.y0, fill: 'none', stroke: '#888888', 'stroke-width': 3.5});
  
  
  xTicks.forEach(function (t, i) {
    if (t !== xDomain[0] && t !== xDomain[1]) {
      [[box.y1, box.y1 - 16], [box.y0, box.y0 + 16]].forEach(function (p) {
        const tick = mk(g, 'line', {x1: sx(t), x2: sx(t), y1: p[0], y2: p[1], stroke: '#555555', 'stroke-width': 3.5});
        
        
      });
    }
    if (xLabels[i]) {
      const label = mk(g, 'text', {x: sx(t) + 6, y: xLabelY, 'font-size': 65, fill: '#555555', 'text-anchor': 'middle'});
      label.textContent = xLabels[i];
      
      
    }
  });
  yTicks.forEach(function (t, i) {
    if (t !== yDomain[0] && t !== yDomain[1]) {
      [[box.x0, box.x0 + 16], [box.x1, box.x1 - 16]].forEach(function (p) {
        const tick = mk(g, 'line', {x1: p[0], x2: p[1], y1: sy(t), y2: sy(t), stroke: '#555555', 'stroke-width': 3.5});
        
        
      });
    }
    if (yLabels[i]) {
      const label = mk(g, 'text', {x: box.x0 - 17, y: sy(t) + yLabelDy, 'font-size': 65, fill: '#555555', 'text-anchor': 'end'});
      label.textContent = yLabels[i];
      
      
    }
  });
}
const blue = '#377eb8', green = '#4daf4a', red = '#e41a1c';
const rowTimeTop = 1234, rowTimeBottom = 2023, rowSpecTop = 2368, rowSpecBottom = 3124;
drawPanel('panel-d', {x0: 286, x1: 1334, y0: rowTimeTop, y1: rowTimeBottom}, [-100, 100], [-0.05, 1.2], timeD, intensityD, blue, 13.5, xTicksD, xTickLabelsD, yTicksTime, yTickLabelsTime, 2098, 20);
drawPanel('panel-e', {x0: 1616, x1: 2664, y0: rowTimeTop, y1: rowTimeBottom}, [-150, 150], [-0.05, 1.2], timeE, intensityE, green, 13.5, xTicksE, xTickLabelsE, yTicksTime, yTickLabelsTime, 2098, 20);
drawPanel('panel-f', {x0: 2947, x1: 3995, y0: rowTimeTop, y1: rowTimeBottom}, [-200, 200], [-0.05, 1.2], timeF, intensityF, red, 14.5, xTicksF, xTickLabelsF, yTicksTime, yTickLabelsTime, 2098, 20);
drawPanel('panel-g', {x0: 380, x1: 1313, y0: rowSpecTop, y1: rowSpecBottom}, [1055, 1065], [-50, 0], wavelengthG, powerG, blue, 13, xTicksG, xTickLabelsG, yTicksG, yTickLabelsG, 3198, 19);
drawPanel('panel-h', {x0: 1710, x1: 2645, y0: rowSpecTop, y1: rowSpecBottom}, [1560, 1570], [-60, 0], wavelengthH, powerH, green, 13, xTicksH, xTickLabelsH, yTicksH, yTickLabelsH, 3198, 19);
drawPanel('panel-i', {x0: 3042, x1: 3976, y0: rowSpecTop, y1: rowSpecBottom}, [1920, 1930], [-30, 0], wavelengthI, powerI, red, 13, xTicksI, xTickLabelsI, yTicksI, yTickLabelsI, 3198, 19);
</script>
</body>
</html>
